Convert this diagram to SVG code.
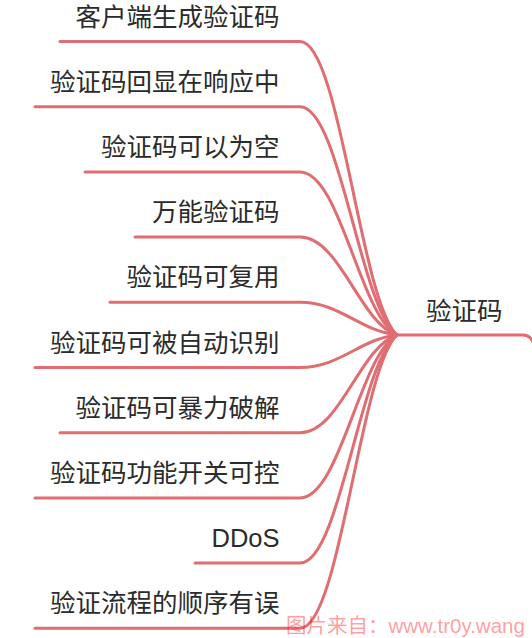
<svg xmlns="http://www.w3.org/2000/svg" width="532" height="638" viewBox="0 0 532 638">
<style>
.t{font-family:"Liberation Sans","Noto Sans CJK SC",sans-serif;font-size:25.5px;fill:#2b2b2b}
.b{text-anchor:end}
.c{fill:none;stroke:#E06D71;stroke-width:3;stroke-linecap:round}
.wm{font-family:"Liberation Sans","Noto Sans CJK SC",sans-serif;font-size:20.5px;fill:#ff0000;fill-opacity:0.4}
</style>
<rect width="532" height="638" fill="#fff"/>
<g id="connectors">
<path class="c" d="M397,335 H523 Q530,335 533,342" stroke-width="3.5"/>
<path class="c" d="M60,41.5 H300 C340,41.5 360,300.1 397,335"/>
<path class="c" d="M35,106.7 H300 C340,106.7 360,307.8 397,335"/>
<path class="c" d="M85,171.9 H300 C340,171.9 360,315.6 397,335"/>
<path class="c" d="M135,237.1 H300 C340,237.1 360,323.3 397,335"/>
<path class="c" d="M110,302.3 H300 C340,302.3 360,331.1 397,335"/>
<path class="c" d="M35,367.5 H300 C340,367.5 360,338.9 397,335"/>
<path class="c" d="M60,432.7 H300 C340,432.7 360,346.6 397,335"/>
<path class="c" d="M35,497.9 H300 C340,497.9 360,354.4 397,335"/>
<path class="c" d="M195,563.1 H300 C340,563.1 360,362.1 397,335"/>
<path class="c" d="M35,628.3 H300 C340,628.3 360,369.9 397,335"/>
</g>
<g id="root"><text class="t" x="426" y="320">验证码</text></g>
<g id="n1"><text class="t b" x="279.5" y="25.5">客户端生成验证码</text></g>
<g id="n2"><text class="t b" x="279.5" y="90.7">验证码回显在响应中</text></g>
<g id="n3"><text class="t b" x="279.5" y="155.9">验证码可以为空</text></g>
<g id="n4"><text class="t b" x="279.5" y="221.1">万能验证码</text></g>
<g id="n5"><text class="t b" x="279.5" y="286.3">验证码可复用</text></g>
<g id="n6"><text class="t b" x="279.5" y="351.5">验证码可被自动识别</text></g>
<g id="n7"><text class="t b" x="279.5" y="416.7">验证码可暴力破解</text></g>
<g id="n8"><text class="t b" x="279.5" y="481.9">验证码功能开关可控</text></g>
<g id="n9"><text class="t b" x="279.5" y="547.1">DDoS</text></g>
<g id="n10"><text class="t b" x="279.5" y="612.3">验证流程的顺序有误</text></g>
<text class="wm" x="286" y="633">图片来自：www.tr0y.wang</text>
</svg>
